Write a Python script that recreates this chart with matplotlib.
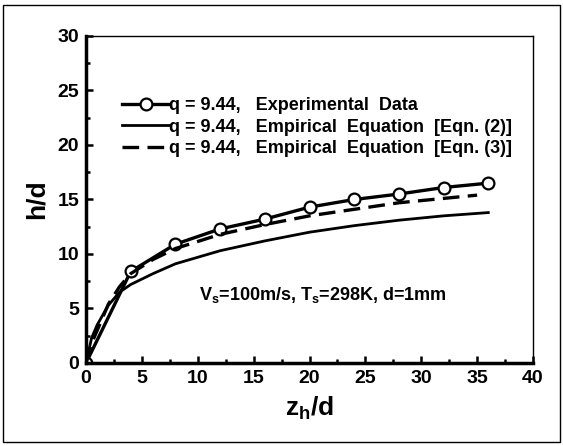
import matplotlib
matplotlib.use("Agg")
import matplotlib.pyplot as plt
from matplotlib.patches import Rectangle
from matplotlib.ticker import MultipleLocator

plt.rcParams["font.family"] = ["Liberation Sans", "DejaVu Sans"]
plt.rcParams["font.weight"] = "bold"
plt.rcParams["mathtext.fontset"] = "custom"
plt.rcParams["mathtext.rm"] = "Liberation Sans:bold"
plt.rcParams["mathtext.it"] = "Liberation Sans:bold"
plt.rcParams["mathtext.bf"] = "Liberation Sans:bold"

# experimental data
exp_x = [0, 4, 8, 12, 16, 20, 24, 28, 32, 36]
exp_y = [0, 8.4, 10.9, 12.3, 13.2, 14.3, 15.0, 15.5, 16.1, 16.5]

# empirical equation (2)
eq2_x = [0, 0.5, 1, 2, 3, 4, 6, 8, 10, 12, 16, 20, 24, 28, 32, 36]
eq2_y = [0, 2.3, 3.5, 5.3, 6.5, 7.2, 8.2, 9.1, 9.7, 10.3, 11.2, 12.0, 12.6, 13.1, 13.5, 13.8]

# empirical equation (3)
eq3_x = [0, 0.5, 1, 2, 3, 4, 6, 8, 12, 16, 20, 24, 28, 32, 35]
eq3_y = [0, 1.8, 3.0, 5.4, 7.0, 8.2, 9.5, 10.5, 11.8, 12.7, 13.5, 14.1, 14.7, 15.1, 15.4]

labels = [
    "q = 9.44,   Experimental  Data",
    "q = 9.44,   Empirical  Equation  [Eqn. (2)]",
    "q = 9.44,   Empirical  Equation  [Eqn. (3)]",
]

fig = plt.figure(figsize=(5.63, 4.46), dpi=100)
fig.patches.append(Rectangle((0.006, 0.008), 0.988, 0.981, transform=fig.transFigure,
                             fill=False, edgecolor="black", linewidth=1.0))
ax = fig.add_axes([0.1528, 0.1861, 0.7939, 0.7332])

ax.plot(exp_x, exp_y, "-", color="black", linewidth=2.4, marker="o", markersize=8.5,
        markerfacecolor="white", markeredgecolor="black", markeredgewidth=1.6, label=labels[0])
ax.plot(eq2_x, eq2_y, "-", color="black", linewidth=2.0, label=labels[1])
ax.plot(eq3_x, eq3_y, color="black", linewidth=2.4, dashes=(5, 2.5), label=labels[2])

ax.set_xlim(0, 40)
ax.set_ylim(0, 30)
ax.xaxis.set_major_locator(MultipleLocator(5))
ax.xaxis.set_minor_locator(MultipleLocator(2.5))
ax.yaxis.set_major_locator(MultipleLocator(5))
ax.yaxis.set_minor_locator(MultipleLocator(2.5))
ax.tick_params(which="both", direction="in", width=1.8, labelsize=14)
ax.tick_params(which="major", length=5, pad=5)
ax.tick_params(which="minor", length=3)
for lab in ax.get_xticklabels() + ax.get_yticklabels():
    lab.set_fontweight("bold")

ax.spines["left"].set_linewidth(2.5)
ax.spines["bottom"].set_linewidth(2.5)
ax.spines["top"].set_linewidth(1.0)
ax.spines["right"].set_linewidth(1.0)

ax.set_xlabel("z$_h$/d", fontsize=19, fontweight="bold", labelpad=6)
ax.set_ylabel("h/d", fontsize=19, fontweight="bold", labelpad=6)

leg = ax.legend(loc="upper left", bbox_to_anchor=(0.065, 0.835), frameon=False,
                fontsize=13, handlelength=2.6, handletextpad=0.0, labelspacing=0.25,
                borderaxespad=0)
for t in leg.get_texts():
    t.set_fontweight("bold")

ax.text(0.53, 0.208, "V$_s$=100m/s, T$_s$=298K, d=1mm", transform=ax.transAxes,
        ha="center", va="center", fontsize=13, fontweight="bold")

fig.savefig("out.png", dpi=100)
